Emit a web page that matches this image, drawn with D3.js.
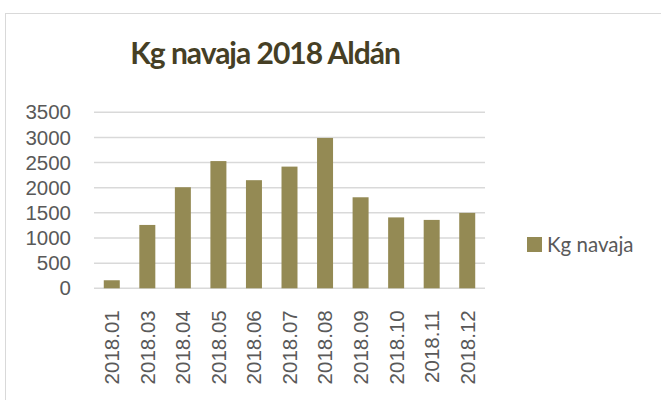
<!DOCTYPE html>
<html>
<head>
<meta charset="utf-8">
<script src="https://cdn.jsdelivr.net/npm/d3@7"></script>
<style>
  html, body { margin: 0; padding: 0; background: #fff; }
  svg { display: block; }
</style>
</head>
<body>
<svg id="chart" width="661" height="400"></svg>
<script>
// Monthly razor clam catch (kg), Aldán 2018
const months = ["2018.01", "2018.03", "2018.04", "2018.05", "2018.06", "2018.07",
                "2018.08", "2018.09", "2018.10", "2018.11", "2018.12"];
const kgNavaja = [160, 1260, 2010, 2530, 2150, 2420, 2990, 1810, 1410, 1360, 1500];
const yTicks = [0, 500, 1000, 1500, 2000, 2500, 3000, 3500];
const seriesName = "Kg navaja";
const titleText = "Kg navaja 2018 Aldán";

const svg = d3.select("#chart");
const W = 661, H = 400;
const plot = { left: 94, right: 485, top: 112.3, bottom: 288.3 };

// chart frame
svg.append("rect")
  .attr("x", 5.5).attr("y", 13.5)
  .attr("width", W + 20).attr("height", H + 20)
  .attr("fill", "#fff").attr("stroke", "#d9d9d9").attr("stroke-width", 1);

const x = d3.scaleBand()
  .domain(months)
  .range([plot.left, plot.right])
  .paddingInner(0.55)
  .paddingOuter(0.275);

const y = d3.scaleLinear()
  .domain([0, 3500])
  .range([plot.bottom, plot.top]);

// horizontal gridlines
svg.append("g")
  .selectAll("line")
  .data(yTicks)
  .join("line")
  .attr("x1", plot.left).attr("x2", plot.right)
  .attr("y1", d => y(d)).attr("y2", d => y(d))
  .attr("stroke", "#d9d9d9").attr("stroke-width", 1.5);

// y axis labels
const yAxis = d3.axisLeft(y).tickValues(yTicks).tickFormat(d3.format("d"))
  .tickSize(0).tickPadding(0);
const gy = svg.append("g")
  .attr("transform", `translate(${plot.left - 23},0)`)
  .call(yAxis);
gy.select(".domain").remove();
gy.selectAll("text")
  .attr("font-family", "'Liberation Sans', Arial, sans-serif")
  .attr("font-size", 20.5)
  .attr("fill", "#595959");

// bars
svg.append("g")
  .selectAll("rect")
  .data(kgNavaja)
  .join("rect")
  .attr("x", (d, i) => x(months[i]))
  .attr("y", d => y(d))
  .attr("width", x.bandwidth())
  .attr("height", d => y(0) - y(d))
  .attr("fill", "#948a54");

// x axis labels (rotated)
const xAxis = d3.axisBottom(x).tickSize(0).tickPadding(0);
const gx = svg.append("g")
  .attr("transform", `translate(0,${plot.bottom})`)
  .call(xAxis);
gx.select(".domain").remove();
gx.selectAll("text")
  .attr("font-family", "'Liberation Sans', Arial, sans-serif")
  .attr("font-size", 20.5)
  .attr("fill", "#595959")
  .attr("transform", "rotate(-90)")
  .attr("text-anchor", "end")
  .attr("x", -22)
  .attr("y", 0)
  .attr("dy", "0.36em");

// title
svg.append("text")
  .attr("x", 265).attr("y", 64)
  .attr("text-anchor", "middle")
  .attr("font-family", "Lato, 'Open Sans', sans-serif")
  .attr("font-weight", "bold")
  .attr("font-size", 30)
  .attr("letter-spacing", -1)
  .attr("fill", "#463f25")
  .text(titleText);

// legend
const legend = svg.append("g").attr("transform", "translate(527,237)");
legend.append("rect")
  .attr("width", 15).attr("height", 15)
  .attr("fill", "#948a54");
legend.append("text")
  .attr("x", 20).attr("y", 7.5)
  .attr("dy", "0.36em")
  .attr("font-family", "Lato, 'Open Sans', sans-serif")
  .attr("font-size", 20.5)
  .attr("fill", "#595959")
  .text(seriesName);
</script>
</body>
</html>
